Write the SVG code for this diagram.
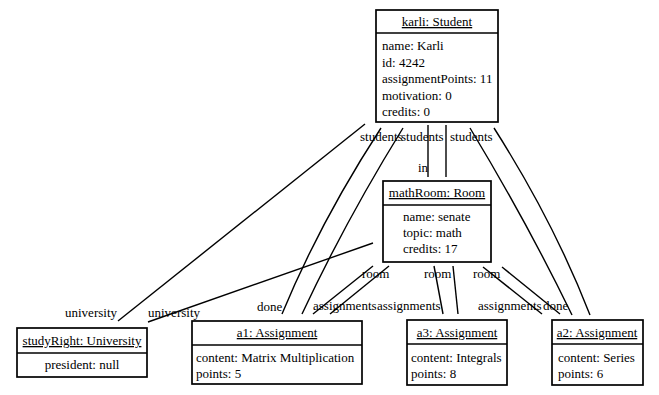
<svg xmlns="http://www.w3.org/2000/svg" width="659" height="395" viewBox="0 0 659 395">
  <style>
    text { font-family: "Liberation Serif", "Times New Roman", serif; font-size: 13px; fill: #000; }
    .box { fill: #fff; stroke: #000; stroke-width: 1.7; }
    .sep { stroke: #000; stroke-width: 1.7; }
    .title { text-anchor: middle; text-decoration: underline; }
    .mid { text-anchor: middle; }
    .edge { fill: none; stroke: #000; stroke-width: 1.4; }
  </style>
  <rect width="659" height="395" fill="#fff"/>

  <!-- links between objects -->
  <g id="links">
    <path class="edge" d="M365,124 L118,321"/>
    <path class="edge" d="M381,128 Q320.5,221 282,314"/>
    <path class="edge" d="M403,128 Q345.5,221 302,314"/>
    <path class="edge" d="M428,125 L428,177"/>
    <path class="edge" d="M446,125 L446,177"/>
    <path class="edge" d="M470,128 Q526.6,221.5 572,315"/>
    <path class="edge" d="M494,128 Q553.6,221.5 590,315"/>
    <path class="edge" d="M373,243 L148,322"/>
    <path class="edge" d="M373,266 L313,314"/>
    <path class="edge" d="M389,266 L330,314"/>
    <path class="edge" d="M434,266 L443,314"/>
    <path class="edge" d="M453,266 L458,314"/>
    <path class="edge" d="M483,267 L542,314"/>
    <path class="edge" d="M502,267 L560,314"/>
  </g>

  <!-- role names -->
  <g id="labels">
    <text x="360" y="141">students</text>
    <text x="401" y="141">students</text>
    <text x="450" y="141">students</text>
    <text x="418" y="172">in</text>
    <text x="65" y="317">university</text>
    <text x="148" y="317">university</text>
    <text x="257" y="311">done</text>
    <text x="313" y="310">assignments</text>
    <text x="377" y="310">assignments</text>
    <text x="362" y="278">room</text>
    <text x="424" y="278">room</text>
    <text x="473" y="278">room</text>
    <text x="478" y="310">assignments</text>
    <text x="543" y="310">done</text>
  </g>

  <g id="karli">
    <rect class="box" x="376" y="10" width="122" height="112"/>
    <line class="sep" x1="376" y1="33" x2="498" y2="33"/>
    <text class="title" x="437" y="26">karli: Student</text>
    <text x="382" y="50">name: Karli</text>
    <text x="382" y="66.5">id: 4242</text>
    <text x="382" y="83">assignmentPoints: 11</text>
    <text x="382" y="99.5">motivation: 0</text>
    <text x="382" y="116">credits: 0</text>
  </g>

  <g id="mathRoom">
    <rect class="box" x="383" y="181" width="108" height="81"/>
    <line class="sep" x1="383" y1="205" x2="491" y2="205"/>
    <text class="title" x="437" y="197">mathRoom: Room</text>
    <text x="403" y="221">name: senate</text>
    <text x="403" y="237">topic: math</text>
    <text x="403" y="253">credits: 17</text>
  </g>

  <g id="studyRight">
    <rect class="box" x="17" y="328" width="130" height="49"/>
    <line class="sep" x1="17" y1="353" x2="147" y2="353"/>
    <text class="title" x="82" y="345">studyRight: University</text>
    <text class="mid" x="82" y="369">president: null</text>
  </g>

  <g id="a1">
    <rect class="box" x="192" y="321" width="170" height="63"/>
    <line class="sep" x1="192" y1="345" x2="362" y2="345"/>
    <text class="title" x="277" y="337">a1: Assignment</text>
    <text x="196" y="362">content: Matrix Multiplication</text>
    <text x="196" y="378">points: 5</text>
  </g>

  <g id="a3">
    <rect class="box" x="407" y="320" width="100" height="65"/>
    <line class="sep" x1="407" y1="344" x2="507" y2="344"/>
    <text class="title" x="457" y="337">a3: Assignment</text>
    <text x="411" y="362">content: Integrals</text>
    <text x="411" y="378">points: 8</text>
  </g>

  <g id="a2">
    <rect class="box" x="552" y="320" width="91" height="65"/>
    <line class="sep" x1="552" y1="344" x2="643" y2="344"/>
    <text class="title" x="597" y="337">a2: Assignment</text>
    <text x="558" y="362">content: Series</text>
    <text x="558" y="378">points: 6</text>
  </g>
</svg>
